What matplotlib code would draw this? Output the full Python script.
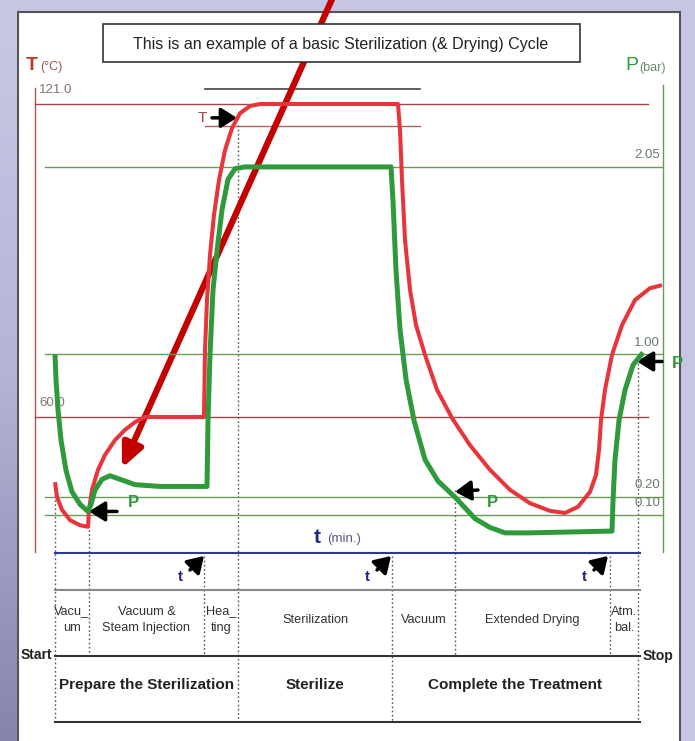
import numpy as np
import matplotlib.pyplot as plt
from matplotlib.patches import Rectangle
from matplotlib.colors import LinearSegmentedColormap

plt.rcParams['font.family'] = ['Liberation Sans', 'DejaVu Sans']

# temperature curve, t in min, T in degC
t_temp = [0.0, 0.2, 0.7, 1.5, 2.5, 3.3, 3.4, 3.7, 4.3, 5.0, 6.0, 7.0, 8.0, 9.0,
          14.9, 15.0, 15.2, 15.5, 15.9, 16.4, 17.0, 17.7, 18.5, 19.5, 20.5,
          34.3, 34.5, 34.7, 35.0, 35.5, 36.1, 37.0, 38.2, 39.7, 41.5, 43.5,
          45.5, 47.5, 49.5, 51.0, 52.3, 53.5, 54.1, 54.4, 54.6, 55.0, 55.7,
          56.7, 58.0, 59.5, 60.7]
temp = [47.3, 44.4, 41.9, 39.9, 38.9, 38.6, 41.9, 45.8, 49.7, 52.6, 55.5, 57.5, 59.0, 60.0,
        60.0, 73.1, 82.8, 91.6, 99.4, 106.2, 112.0, 116.3, 119.2, 120.6, 121.0,
        121.0, 115.9, 106.2, 94.5, 84.8, 77.9, 72.1, 65.3, 59.8, 54.5, 49.7,
        45.8, 43.2, 41.7, 41.3, 42.5, 45.4, 48.7, 53.6, 59.4, 65.3, 72.1,
        77.9, 82.8, 85.1, 85.7]

# pressure curve, t in min, P in bar
t_pres = [0.0, 0.1, 0.3, 0.6, 1.1, 1.7, 2.5, 3.3, 3.6, 4.0, 4.7, 5.5, 6.5, 8.0, 10.5,
          15.2, 15.3, 15.5, 15.8, 16.2, 16.7, 17.3, 18.0, 19.0,
          33.6, 33.8, 34.1, 34.5, 35.1, 35.9, 37.0, 38.3, 40.0, 42.0, 43.5, 45.0,
          47.5, 55.7, 55.8, 56.0, 56.4, 57.0, 57.8, 58.8]
pres = [1.00, 0.86, 0.69, 0.52, 0.35, 0.23, 0.16, 0.12, 0.16, 0.24, 0.30, 0.32, 0.30, 0.27, 0.26,
        0.26, 0.63, 1.00, 1.36, 1.58, 1.81, 1.98, 2.04, 2.05,
        2.05, 1.86, 1.47, 1.14, 0.86, 0.63, 0.41, 0.29, 0.20, 0.08, 0.03, 0.00,
        0.00, 0.01, 0.18, 0.41, 0.63, 0.80, 0.94, 1.01]

temp_levels = [121.0, 60.0]
temp_labels = ['121.0', '60.0']
pres_levels = [2.05, 1.00, 0.20, 0.10]
pres_labels = ['2.05', '1.00', '0.20', '0.10']

phase_bounds = [0, 3.4, 14.9, 18.3, 33.7, 40.0, 55.5, 58.3]
phase_names = ['Vacu_\num', 'Vacuum &\nSteam Injection', 'Hea_\nting', 'Sterilization',
               'Vacuum', 'Extended Drying', 'Atm.\nbal.']
stage_bounds = [0, 18.3, 33.7, 58.3]
stage_names = ['Prepare the Sterilization', 'Sterilize', 'Complete the Treatment']

RED = '#e8353b'
GREEN = '#2f9a3c'
DARK = '#333333'

fig = plt.figure(figsize=(6.95, 7.41), dpi=100, facecolor='#c6c6e4')

# lavender side strip, darker toward the bottom
strip = fig.add_axes([0, 0, 17 / 695, 1])
strip.imshow(np.linspace(0, 1, 100).reshape(-1, 1), aspect='auto',
             cmap=LinearSegmentedColormap.from_list('lav', ['#c8c8e6', '#b4b4d6', '#8686ac']))
strip.axis('off')

fig.add_artist(Rectangle((18 / 695, -0.01), 662 / 695, 729 / 741 + 0.01, transform=fig.transFigure,
                         fc='white', ec='#555555', lw=1.5, zorder=-1))

ax = fig.add_axes([0, 0, 1, 1])
ax.set_xlim(-5.5, 64.0)
ax.set_ylim(-3.15, 141.27)
ax.axis('off')
ax.patch.set_alpha(0)
ax2 = ax.twinx()
ax2.set_ylim(-1.166, 2.985)
ax2.axis('off')
trans = ax.get_xaxis_transform()

# title box
fig.add_artist(Rectangle((103 / 695, 1 - 62 / 741), 477 / 695, 38 / 741, transform=fig.transFigure,
                         fc='white', ec=DARK, lw=1.2))
fig.text(0.4906, 0.9406, 'This is an example of a basic Sterilization (& Drying) Cycle',
         ha='center', va='center', fontsize=11.5, color='#222222')

# axis titles
fig.text(26 / 695, 1 - 66 / 741, 'T', color='#c0392b', fontsize=14, fontweight='bold',
         ha='left', va='center')
fig.text(40 / 695, 1 - 67 / 741, '(°C)', color='#a05050', fontsize=9, ha='left', va='center')
fig.text(625 / 695, 1 - 66 / 741, 'P', color=GREEN, fontsize=14, ha='left', va='center')
fig.text(639 / 695, 1 - 68 / 741, '(bar)', color='#6a8a6a', fontsize=9, ha='left', va='center')

# axis lines
ax.plot([-2.0, -2.0], [124.1, 33.7], color='#b05555', lw=1.0)
ax2.plot([60.8, 60.8], [2.51, -0.11], color='#6a9a5a', lw=1.0)

# temperature reference lines
for lvl, lab in zip(temp_levels, temp_labels):
    ax.plot([-2.0, 59.3], [lvl, lvl], color='#a04848', lw=1.0)
    ax.text(-1.6, lvl + 2.7, lab, color='#8a7070', fontsize=9.5, ha='left', va='center')
ax.plot([15.0, 36.5], [123.9, 123.9], color='#444444', lw=1.2)
ax.plot([15.0, 36.5], [116.7, 116.7], color='#b06060', lw=1.0)

# pressure reference lines
for lvl, lab in zip(pres_levels, pres_labels):
    ax2.plot([-1.0, 60.8], [lvl, lvl], color='#6a9a5a', lw=1.0, zorder=1)
    ax2.text(60.5, lvl + 0.066, lab, color='#6a7a6a', fontsize=9.5, ha='right', va='center')

# curves
ax2.plot(t_temp, temp, color=RED, lw=2.9, transform=ax.transData, zorder=3, solid_capstyle='butt')
ax2.plot(t_pres, pres, color=GREEN, lw=3.6, zorder=4, solid_capstyle='butt')

# dotted phase lines
vspans = [(0.348, 0.0256), (0.3077, 0.1147), (0.2497, 0.1147), (0.8313, 0.0256),
          (0.2497, 0.0256), (0.3387, 0.1147), (0.2497, 0.1147), (0.5209, 0.0256)]
for x, (y0, y1) in zip(phase_bounds, vspans):
    ax.plot([x, x], [y0, y1], transform=trans, color='#555555', lw=1.0, ls=(0, (1.2, 1.8)))

# table lines
ax.plot([0, 58.5], [0.2537, 0.2537], transform=trans, color='#2d3a8c', lw=1.5)
ax.plot([0, 58.5], [0.2038, 0.2038], transform=trans, color='#888888', lw=1.5)
ax.plot([0, 58.5], [0.1147, 0.1147], transform=trans, color=DARK, lw=1.5)
ax.plot([0, 58.5], [0.0256, 0.0256], transform=trans, color=DARK, lw=1.5)

ax.text(25.9, 0.2753, 't', transform=trans, color='#1f2a80', fontsize=15, fontweight='bold',
        ha='left', va='center')
ax.text(27.2, 0.2720, '(min.)', transform=trans, color='#5a5a8a', fontsize=9.5, ha='left', va='center')

for i, name in enumerate(phase_names):
    xc = (phase_bounds[i] + phase_bounds[i + 1]) / 2
    ax.text(xc, 0.1633, name, transform=trans, ha='center', va='center', fontsize=9.2,
            color='#333333', linespacing=1.55)
for i, name in enumerate(stage_names):
    xc = (stage_bounds[i] + stage_bounds[i + 1]) / 2
    ax.text(xc, 0.0756, name, transform=trans, ha='center', va='center', fontsize=11,
            fontweight='bold', color='#222222')

ax.text(-0.3, 0.116, 'Start', transform=trans, ha='right', va='center', fontsize=10,
        fontweight='bold', color='#222222')
ax.text(58.8, 0.115, 'Stop', transform=trans, ha='left', va='center', fontsize=10,
        fontweight='bold', color='#222222')

# small black arrows
arr = dict(arrowstyle='-|>,head_length=0.8,head_width=0.5', color='black', lw=2.5,
           mutation_scale=12, shrinkA=0, shrinkB=0)
for tip, tail, lab in [((3.4, 0.12), (6.2, 0.12), (7.3, 0.17)),
                       ((40.0, 0.23), (42.3, 0.24), (43.2, 0.17)),
                       ((58.2, 0.96), (60.7, 0.96), (61.7, 0.95))]:
    ax2.annotate('', xy=tip, xytext=tail, arrowprops=arr)
    ax2.text(lab[0], lab[1], 'P', color=GREEN, fontsize=12, fontweight='bold', ha='left', va='center')

ax.annotate('', xy=(18.2, 118.3), xytext=(15.7, 118.3), arrowprops=arr)
ax.text(15.2, 118.3, 'T', color='#a04848', fontsize=11, ha='right', va='center')

for x in [14.9, 33.6, 55.3]:
    ax.annotate('', xy=(x, 0.2497), xytext=(x - 1.4, 0.2308), xycoords=trans, textcoords=trans,
                arrowprops=arr)
    ax.text(x - 2.4, 0.2213, 't', transform=trans, color='#1f2a80', fontsize=11, fontweight='bold',
            ha='center', va='center')

# overlaid red pointer
ax.annotate('', xy=(122 / 695, 1 - 468 / 741), xytext=(333 / 695, 1 + 3 / 741),
            xycoords='figure fraction', textcoords='figure fraction', annotation_clip=False,
            arrowprops=dict(arrowstyle='-|>,head_length=0.7,head_width=0.32', color='#c40000',
                            lw=4.5, mutation_scale=20, shrinkA=0, shrinkB=0), zorder=10)

fig.savefig('out.png', dpi=100, facecolor=fig.get_facecolor())
